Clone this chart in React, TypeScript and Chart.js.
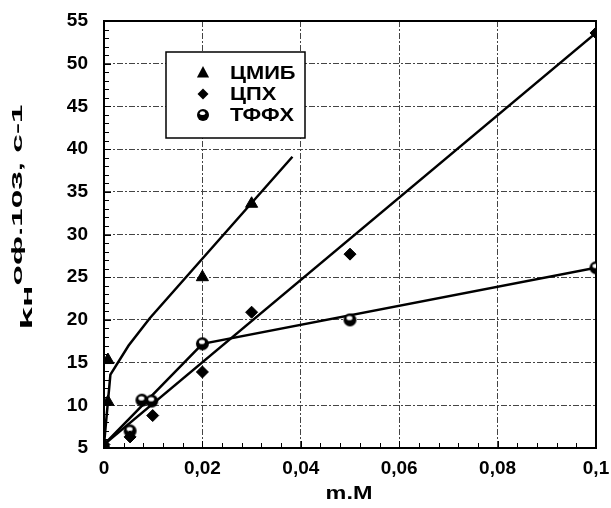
import React, { useEffect, useRef } from "react";
import { Chart, registerables } from "chart.js";

Chart.register(...registerables);

// ---- data ----
const seriesLabels = ["ЦМИБ", "ЦПХ", "ТФФХ"];

const cmibX = [0, 0.0008, 0.0008, 0.02, 0.03];
const cmibY = [5.4, 10.4, 15.3, 25.0, 33.6];
const cmibFitX = [0, 0.0013, 0.005, 0.0093, 0.0383];
const cmibFitY = [5.4, 13.6, 17.0, 20.2, 39.1];

const cpxX = [0, 0.0053, 0.0099, 0.02, 0.03, 0.05, 0.1];
const cpxY = [5.4, 6.3, 8.8, 13.9, 20.9, 27.7, 53.6];
const cpxFitX = [0, 0.1];
const cpxFitY = [5.4, 53.6];

const tffxX = [0.0053, 0.0077, 0.0097, 0.02, 0.05, 0.1];
const tffxY = [7.0, 10.6, 10.5, 17.2, 20.0, 26.1];
const tffxFitX = [0, 0.02, 0.1];
const tffxFitY = [5.4, 17.2, 26.1];

const xMin = 0;
const xMax = 0.1;
const xStep = 0.02;
const xMinorStep = 0.004;
const yMin = 5;
const yMax = 55;
const yStep = 5;
const yMinorStep = 1;

const xTitle = "m.M";
const yTitleParts = [
  { text: "k", size: 17, dy: 0 },
  { text: "н", size: 15, dy: 0 },
  { text: "оф.103, с-1", size: 14, dy: -10 },
];

const FONT = '"Liberation Sans", Arial, sans-serif';

function pts(xs: number[], ys: number[]) {
  return xs.map((x, i) => ({ x, y: ys[i] }));
}

function makeBall(r: number) {
  const c = document.createElement("canvas");
  const s = Math.ceil(r * 2 + 2);
  c.width = s;
  c.height = s;
  const g = c.getContext("2d")!;
  g.fillStyle = "#000";
  g.beginPath();
  g.arc(s / 2, s / 2, r, 0, Math.PI * 2);
  g.fill();
  g.fillStyle = "#fff";
  g.beginPath();
  g.ellipse(s / 2 - 0.5, s / 2 - 1.8, r * 0.45, r * 0.32, 0, 0, Math.PI * 2);
  g.fill();
  return c;
}

function drawTri(ctx: CanvasRenderingContext2D, x: number, y: number, r: number) {
  const h = r * 1.5;
  ctx.beginPath();
  ctx.moveTo(x, y - h * 0.66);
  ctx.lineTo(x + r * 0.87, y + h * 0.34 + 1);
  ctx.lineTo(x - r * 0.87, y + h * 0.34 + 1);
  ctx.closePath();
  ctx.fill();
}

function drawDiamond(ctx: CanvasRenderingContext2D, x: number, y: number, r: number) {
  ctx.beginPath();
  ctx.moveTo(x, y - r);
  ctx.lineTo(x + r, y);
  ctx.lineTo(x, y + r);
  ctx.lineTo(x - r, y);
  ctx.closePath();
  ctx.fill();
}

function zeroPad(s: any) {
  s.paddingLeft = 0;
  s.paddingRight = 0;
  s.paddingTop = 0;
  s.paddingBottom = 0;
}

export default function App() {
  const ref = useRef<HTMLCanvasElement | null>(null);

  useEffect(() => {
    const canvas = ref.current;
    if (!canvas) return;
    const ball = makeBall(6.5);
    const legendBall = makeBall(6);

    const decor = {
      id: "decor",
      beforeDatasetsDraw(chart: any) {
        const { ctx, chartArea: a, scales } = chart;
        const x = scales.x;
        const y = scales.y;
        ctx.save();
        ctx.strokeStyle = "#000";
        ctx.lineWidth = 1;
        const ny = Math.round((yMax - yMin) / yMinorStep);
        for (let i = 0; i <= ny; i++) {
          const v = yMin + i * yMinorStep;
          const py = Math.round(y.getPixelForValue(v)) + 0.5;
          const len = i % Math.round(yStep / yMinorStep) === 0 ? 7 : 5;
          ctx.beginPath();
          ctx.moveTo(a.left, py);
          ctx.lineTo(a.left + len, py);
          ctx.stroke();
        }
        const nx = Math.round((xMax - xMin) / xMinorStep);
        for (let i = 0; i <= nx; i++) {
          const v = xMin + i * xMinorStep;
          const px = Math.round(x.getPixelForValue(v)) + 0.5;
          const len = i % Math.round(xStep / xMinorStep) === 0 ? 7 : 5;
          ctx.beginPath();
          ctx.moveTo(px, a.bottom);
          ctx.lineTo(px, a.bottom - len);
          ctx.stroke();
        }
        ctx.lineWidth = 2;
        ctx.strokeRect(a.left, a.top, a.right - a.left, a.bottom - a.top);
        ctx.restore();
      },
      afterDraw(chart: any) {
        const { ctx, chartArea: a } = chart;
        ctx.save();
        // legend box
        const lx = a.left + 62;
        const ly = a.top + 31;
        const lw = 139;
        const lh = 86;
        ctx.fillStyle = "#fff";
        ctx.fillRect(lx, ly, lw, lh);
        ctx.strokeStyle = "#000";
        ctx.lineWidth = 1.5;
        ctx.strokeRect(lx, ly, lw, lh);
        ctx.fillStyle = "#000";
        const rows = [ly + 21, ly + 42, ly + 63];
        const mx = lx + 37;
        drawTri(ctx, mx, rows[0], 7);
        drawDiamond(ctx, mx, rows[1], 5.5);
        ctx.drawImage(legendBall, mx - legendBall.width / 2, rows[2] - legendBall.height / 2);
        ctx.font = `bold 19px ${FONT}`;
        ctx.textAlign = "left";
        ctx.textBaseline = "middle";
        seriesLabels.forEach((t, i) => {
          ctx.save();
          ctx.translate(lx + 64, rows[i] + 1);
          ctx.scale(1.15, 1);
          ctx.fillText(t, 0, 0);
          ctx.restore();
        });

        // x title
        ctx.font = `bold 18px ${FONT}`;
        ctx.textAlign = "center";
        ctx.textBaseline = "middle";
        ctx.save();
        ctx.translate((a.left + a.right) / 2 - 1, a.bottom + 46);
        ctx.scale(1.3, 1);
        ctx.fillText(xTitle, 0, 0);
        ctx.restore();

        // y title (rotated, with sub/superscripts)
        ctx.textAlign = "left";
        ctx.textBaseline = "alphabetic";
        let total = 0;
        const widths = yTitleParts.map((p) => {
          ctx.font = `bold ${p.size}px ${FONT}`;
          const w = ctx.measureText(p.text).width;
          total += w;
          return w;
        });
        const targetLen = 225;
        const sx = targetLen / total;
        ctx.save();
        ctx.translate(32, (a.top + a.bottom) / 2 + 95);
        ctx.rotate(-Math.PI / 2);
        ctx.scale(sx, 1);
        let cx = 0;
        yTitleParts.forEach((p, i) => {
          ctx.font = `bold ${p.size}px ${FONT}`;
          ctx.fillText(p.text, cx, p.dy);
          cx += widths[i];
        });
        ctx.restore();
        ctx.restore();
      },
    };

    const fitStyle = {
      showLine: true,
      pointRadius: 0,
      borderColor: "#000",
      borderWidth: 2.5,
      fill: false,
    };

    const chart = new Chart(canvas, {
      type: "scatter",
      data: {
        datasets: [
          {
            label: seriesLabels[0],
            data: pts(cmibX, cmibY),
            pointStyle: "triangle",
            pointRadius: 7,
            backgroundColor: "#000",
            borderColor: "#000",
            borderWidth: 1,
          },
          {
            label: seriesLabels[1],
            data: pts(cpxX, cpxY),
            pointStyle: "rectRot",
            pointRadius: 6,
            backgroundColor: "#000",
            borderColor: "#000",
            borderWidth: 1,
          },
          {
            label: seriesLabels[2],
            data: pts(tffxX, tffxY),
            pointStyle: ball as any,
            pointRadius: 7,
            backgroundColor: "#000",
            borderColor: "#000",
          },
          { label: seriesLabels[0] + " fit", data: pts(cmibFitX, cmibFitY), ...fitStyle },
          { label: seriesLabels[1] + " fit", data: pts(cpxFitX, cpxFitY), ...fitStyle },
          { label: seriesLabels[2] + " fit", data: pts(tffxFitX, tffxFitY), ...fitStyle },
        ] as any,
      },
      options: {
        animation: false,
        responsive: true,
        maintainAspectRatio: false,
        events: [],
        layout: { padding: { top: 21, right: 15, left: 0, bottom: 0 } },
        plugins: { legend: { display: false }, tooltip: { enabled: false } },
        scales: {
          x: {
            type: "linear",
            min: xMin,
            max: xMax,
            afterFit(s: any) {
              s.height = 60;
              zeroPad(s);
            },
            ticks: {
              stepSize: xStep,
              padding: 9,
              color: "#000",
              font: { family: FONT, size: 19, weight: "bold" },
              maxRotation: 0,
              callback: (v: any) => {
                const n = Number(v);
                if (Math.abs(n) < 1e-9) return "0";
                return n.toFixed(2).replace(/0$/, "").replace(".", ",");
              },
            },
            grid: { color: "#444", lineWidth: 1, drawTicks: false },
            border: { display: true, color: "#000", width: 2, dash: [6, 2, 2, 2] },
          },
          y: {
            type: "linear",
            min: yMin,
            max: yMax,
            afterFit(s: any) {
              s.width = 104;
              zeroPad(s);
            },
            ticks: {
              stepSize: yStep,
              padding: 16,
              color: "#000",
              font: { family: FONT, size: 19, weight: "bold" },
            },
            grid: { color: "#444", lineWidth: 1, drawTicks: false },
            border: { display: true, color: "#000", width: 2, dash: [6, 2, 2, 2] },
          },
        },
      } as any,
      plugins: [decor],
    });

    return () => chart.destroy();
  }, []);

  return (
    <div style={{ position: "absolute", left: 0, top: 0, width: 611, height: 508, background: "#fff" }}>
      <canvas ref={ref} />
    </div>
  );
}
